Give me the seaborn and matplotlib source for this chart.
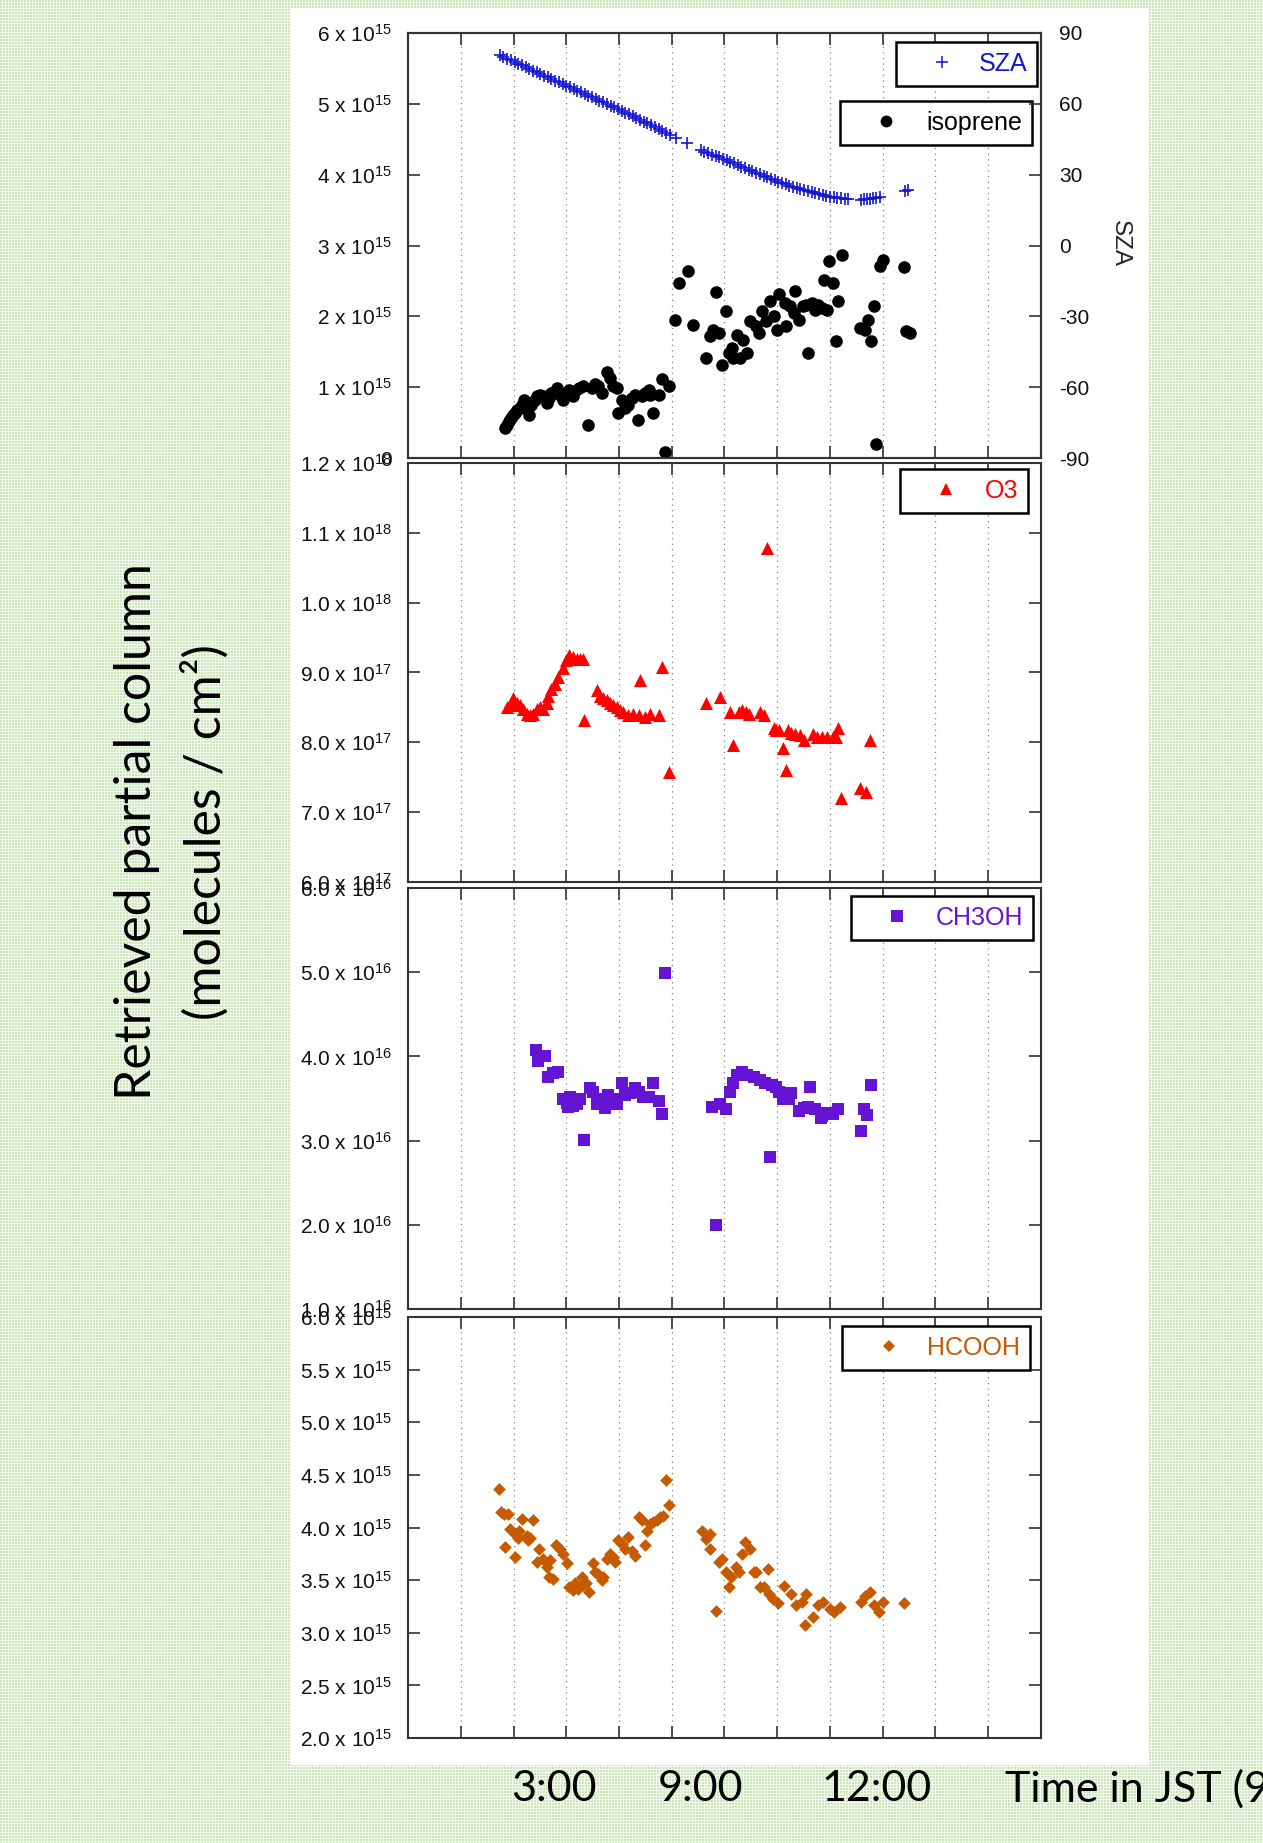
import numpy as np
import matplotlib
matplotlib.use("Agg")
import matplotlib.pyplot as plt
import matplotlib.patches as mpatches
from matplotlib.lines import Line2D
import seaborn as sns

# ---------------- data (x in grid units: 12 equal intervals across the frame) ----------------
sza_x = [1.74, 1.81, 1.88, 1.95, 2.02, 2.09, 2.16, 2.23, 2.30, 2.37, 2.44, 2.51, 2.58, 2.65, 2.72,
         2.79, 2.86, 2.93, 3.00, 3.07, 3.14, 3.21, 3.28, 3.35, 3.42, 3.49, 3.56, 3.63, 3.70, 3.77,
         3.84, 3.91, 3.98, 4.05, 4.12, 4.19, 4.26, 4.33, 4.40, 4.47, 4.54, 4.61, 4.68, 4.75, 4.82,
         4.89, 4.96, 5.09, 5.29,
         5.55, 5.62, 5.69, 5.76, 5.83, 5.90, 5.97, 6.04, 6.11, 6.18, 6.25, 6.32, 6.39, 6.46, 6.53,
         6.60, 6.67, 6.74, 6.81, 6.88, 6.95, 7.02, 7.09, 7.16, 7.23, 7.30, 7.37, 7.44, 7.51, 7.58,
         7.65, 7.72, 7.79, 7.86, 7.93, 8.00, 8.07, 8.14, 8.21, 8.28, 8.35,
         8.58, 8.64, 8.70, 8.76, 8.82, 8.88, 8.94, 9.42, 9.47]
sza_deg = [80.5, 79.8, 79.1, 78.4, 77.7, 77.0, 76.3, 75.5, 74.8, 74.1, 73.4, 72.7, 71.9, 71.2, 70.5,
           69.8, 69.1, 68.4, 67.7, 67.0, 66.3, 65.6, 64.9, 64.2, 63.5, 62.8, 62.1, 61.4, 60.7, 59.9,
           59.2, 58.5, 57.8, 57.0, 56.3, 55.5, 54.8, 54.0, 53.2, 52.5, 51.7, 50.9, 50.1, 49.3, 48.5,
           47.7, 47.0, 45.6, 43.3,
           40.3, 39.7, 39.1, 38.5, 37.9, 37.3, 36.7, 36.1, 35.4, 34.8, 34.1, 33.4, 32.8, 32.1, 31.5,
           30.8, 30.2, 29.6, 29.0, 28.3, 27.7, 27.1, 26.6, 26.0, 25.4, 24.9, 24.4, 23.9, 23.4, 22.9,
           22.5, 22.1, 21.7, 21.3, 21.0, 20.7, 20.4, 20.2, 20.0, 19.9, 19.8,
           19.4, 19.5, 19.6, 19.8, 20.0, 20.2, 20.5, 23.0, 23.4]

iso_x = [1.84, 1.87, 1.92, 1.96, 1.99, 2.03, 2.07, 2.12, 2.17, 2.20, 2.25, 2.30, 2.34, 2.41, 2.45,
         2.50, 2.56, 2.63, 2.68, 2.72, 2.82, 2.88, 2.94, 2.99, 3.06, 3.12, 3.17, 3.25, 3.32, 3.42,
         3.48, 3.55, 3.61, 3.67, 3.77, 3.83, 3.89, 3.96, 3.99, 4.05, 4.12, 4.18, 4.24, 4.31, 4.36,
         4.43, 4.50, 4.56, 4.59, 4.65, 4.75, 4.81, 4.88, 4.94, 5.07, 5.13, 5.30,
         5.41, 5.65, 5.73, 5.79, 5.83, 5.89, 5.95, 6.02, 6.08, 6.14, 6.17, 6.24, 6.30, 6.36, 6.43,
         6.49, 6.59, 6.65, 6.71, 6.78, 6.87, 6.93, 7.00, 7.03,
         7.14, 7.17, 7.24, 7.32, 7.34, 7.41, 7.48, 7.54, 7.58, 7.65, 7.71, 7.78, 7.85, 7.88, 7.95,
         7.99, 8.05, 8.11, 8.16, 8.22, 8.56, 8.67, 8.72, 8.77, 8.84, 8.88, 8.94, 9.01, 9.40, 9.45, 9.52]
iso_val = [0.42, 0.47, 0.52, 0.56, 0.61, 0.64, 0.68, 0.71, 0.75, 0.82, 0.78, 0.61, 0.75, 0.82, 0.87,
           0.89, 0.87, 0.78, 0.85, 0.92, 0.99, 0.89, 0.82, 0.92, 0.96, 0.87, 0.94, 0.99, 1.01, 0.47,
           0.99, 1.04, 1.01, 0.92, 1.22, 1.13, 1.01, 0.99, 0.64, 0.82, 0.71, 0.75, 0.85, 0.89, 0.54,
           0.87, 0.92, 0.96, 0.89, 0.64, 0.89, 1.11, 0.09, 1.01, 1.95, 2.47, 2.64,
           1.88, 1.41, 1.72, 1.81, 2.35, 1.76, 1.32, 2.07, 1.48, 1.55, 1.41, 1.74, 1.41, 1.67, 1.48,
           1.93, 1.86, 1.76, 2.07, 1.93, 2.21, 2.00, 1.81, 2.31,
           2.19, 1.86, 2.14, 2.05, 2.36, 1.95, 2.14, 2.16, 1.48, 2.19, 2.09, 2.16, 2.12, 2.52, 2.09,
           2.78, 2.47, 1.65, 2.21, 2.86, 1.84, 1.81, 1.95, 1.65, 2.14, 0.20, 2.71, 2.80, 2.69, 1.79, 1.76]

o3_x = [1.87, 1.93, 1.99, 2.07, 2.13, 2.18, 2.25, 2.31, 2.37, 2.44, 2.50, 2.56, 2.63, 2.66, 2.72,
        2.79, 2.85, 2.93, 2.99, 3.06, 3.12, 3.20, 3.26, 3.31, 3.34, 3.58, 3.64, 3.70, 3.77, 3.83,
        3.89, 3.96, 4.02, 4.08, 4.18, 4.27, 4.37, 4.40, 4.50, 4.59, 4.75, 4.81, 4.94,
        5.64, 5.92, 6.11, 6.17, 6.27, 6.33, 6.40, 6.46, 6.68, 6.74, 6.81, 6.93, 6.97, 7.03, 7.10, 7.16,
        7.20, 7.27, 7.34, 7.44, 7.51, 7.68, 7.75, 7.85, 7.95, 8.05, 8.11, 8.16, 8.21, 8.56, 8.68, 8.76]
o3_val = [8.51, 8.53, 8.63, 8.56, 8.53, 8.48, 8.41, 8.39, 8.41, 8.48, 8.51, 8.48, 8.56, 8.67, 8.77,
          8.84, 8.94, 9.06, 9.18, 9.25, 9.22, 9.20, 9.20, 9.20, 8.32, 8.75, 8.67, 8.63, 8.60, 8.56,
          8.53, 8.51, 8.46, 8.44, 8.39, 8.41, 8.39, 8.89, 8.36, 8.41, 8.39, 9.08, 7.58,
          8.56, 8.65, 8.44, 7.96, 8.44, 8.46, 8.43, 8.41, 8.44, 8.39, 10.78, 8.20, 8.17, 8.17, 7.92, 7.61,
          8.17, 8.13, 8.12, 8.10, 8.03, 8.12, 8.07, 8.07, 8.08, 8.08, 8.08, 8.21, 7.21, 7.34, 7.29, 8.04]

ch3oh_x = [2.42, 2.47, 2.60, 2.66, 2.75, 2.85, 2.94, 3.01, 3.04, 3.07, 3.13, 3.17, 3.20, 3.26, 3.34,
           3.45, 3.51, 3.58, 3.67, 3.74, 3.80, 3.89, 3.97, 4.05, 4.12, 4.21, 4.31, 4.37, 4.46, 4.56,
           4.65, 4.75, 4.81, 4.88,
           5.76, 5.83, 5.92, 6.02, 6.11, 6.17, 6.24, 6.33, 6.43, 6.55, 6.68, 6.77, 6.87, 6.90, 6.97,
           7.03, 7.10, 7.17, 7.22, 7.27, 7.41, 7.51, 7.58, 7.63, 7.71, 7.82, 7.85, 7.95, 8.05, 8.16,
           8.59, 8.65, 8.70, 8.77]
ch3oh_val = [4.08, 3.94, 4.00, 3.76, 3.80, 3.82, 3.49, 3.45, 3.40, 3.52, 3.41, 3.47, 3.43, 3.49, 3.01,
             3.62, 3.58, 3.43, 3.50, 3.39, 3.54, 3.49, 3.43, 3.68, 3.54, 3.56, 3.62, 3.58, 3.52, 3.52,
             3.68, 3.47, 3.31, 4.99,
             3.40, 2.00, 3.43, 3.37, 3.58, 3.68, 3.78, 3.82, 3.78, 3.76, 3.72, 3.68, 2.81, 3.66, 3.64,
             3.58, 3.49, 3.52, 3.49, 3.56, 3.35, 3.39, 3.40, 3.64, 3.37, 3.27, 3.29, 3.33, 3.31, 3.37,
             3.11, 3.37, 3.30, 3.66]

hcooh_x = [1.72, 1.76, 1.82, 1.84, 1.90, 1.94, 2.03, 2.03, 2.09, 2.11, 2.17, 2.25, 2.28, 2.32, 2.37,
           2.44, 2.49, 2.56, 2.63, 2.68, 2.69, 2.75, 2.80, 2.88, 2.94, 3.01, 3.06, 3.12, 3.17, 3.23,
           3.29, 3.32, 3.38, 3.44, 3.51, 3.55, 3.61, 3.67, 3.70, 3.77, 3.83, 3.89, 3.93, 3.99, 4.05,
           4.12, 4.18, 4.24, 4.31, 4.37, 4.43, 4.50, 4.53, 4.59, 4.65, 4.72, 4.78, 4.84, 4.89, 4.94,
           5.57, 5.64, 5.72, 5.73, 5.83, 5.89, 5.95, 6.02, 6.08, 6.13, 6.21, 6.27, 6.33, 6.39, 6.49,
           6.56, 6.59, 6.68, 6.74, 6.82, 6.85, 6.92, 7.02, 7.12, 7.26, 7.36, 7.46, 7.53, 7.55, 7.67,
           7.77, 7.87, 8.00, 8.08, 8.19, 8.59, 8.66, 8.76, 8.83, 8.93, 9.00, 9.41]
hcooh_val = [4.37, 4.15, 4.13, 3.81, 4.13, 3.99, 3.72, 3.94, 3.90, 3.97, 4.08, 3.92, 3.88, 3.90, 4.07,
             3.67, 3.80, 3.70, 3.62, 3.53, 3.69, 3.51, 3.83, 3.80, 3.75, 3.66, 3.43, 3.41, 3.47, 3.42,
             3.53, 3.45, 3.47, 3.39, 3.66, 3.58, 3.56, 3.50, 3.53, 3.70, 3.75, 3.72, 3.67, 3.88, 3.84,
             3.80, 3.91, 3.78, 3.73, 4.10, 4.07, 3.83, 3.97, 4.03, 4.05, 4.07, 4.10, 4.11, 4.45, 4.21,
             3.97, 3.89, 3.80, 3.94, 3.21, 3.67, 3.70, 3.58, 3.43, 3.53, 3.62, 3.58, 3.75, 3.86, 3.80,
             3.58, 3.58, 3.43, 3.43, 3.61, 3.37, 3.32, 3.28, 3.44, 3.37, 3.26, 3.29, 3.07, 3.37, 3.15,
             3.26, 3.29, 3.23, 3.20, 3.24, 3.29, 3.35, 3.39, 3.26, 3.20, 3.29, 3.28]

# value scales of the stored numbers
iso_scale, o3_scale, ch3oh_scale, hcooh_scale = 1e15, 1e17, 1e16, 1e15

# tick labels (mantissa, exponent) per panel
p1_ticks = [0, 1, 2, 3, 4, 5, 6]                  # x 1e15
p1_mant = ["0", "1", "2", "3", "4", "5", "6"]
p1_exp = ["", "15", "15", "15", "15", "15", "15"]
p2_ticks = [6, 7, 8, 9, 10, 11, 12]               # x 1e17
p2_mant = ["6.0", "7.0", "8.0", "9.0", "1.0", "1.1", "1.2"]
p2_exp = ["17", "17", "17", "17", "18", "18", "18"]
p3_ticks = [1, 2, 3, 4, 5, 6]                     # x 1e16
p3_mant = ["1.0", "2.0", "3.0", "4.0", "5.0", "6.0"]
p3_exp = ["16"] * 6
p4_ticks = [2.0, 2.5, 3.0, 3.5, 4.0, 4.5, 5.0, 5.5, 6.0]   # x 1e15
p4_mant = ["2.0", "2.5", "3.0", "3.5", "4.0", "4.5", "5.0", "5.5", "6.0"]
p4_exp = ["15"] * 9
sza_ticks = [-90, -60, -30, 0, 30, 60, 90]

time_labels = ["3:00", "9:00", "12:00"]
time_title = "Time in JST (9"
ylabel_lines = ["Retrieved partial column", "(molecules / cm²)"]

series_names = ["SZA", "isoprene", "O3", "CH3OH", "HCOOH"]

# ---------------- style ----------------
sns.set_style("white")
plt.rcParams["font.family"] = ["Liberation Sans", "DejaVu Sans"]
plt.rcParams["mathtext.fontset"] = "custom"
plt.rcParams["mathtext.rm"] = "Liberation Sans"
plt.rcParams["mathtext.it"] = "Liberation Sans:italic"
plt.rcParams["mathtext.bf"] = "Liberation Sans:bold"

C_SZA = "#1414d2"
C_ISO = "black"
C_O3 = "#ff0000"
C_CH3OH = "#6414d2"
C_HCOOH = "#c65a00"
SPINE = "#333333"

W, H = 1263, 1843
fig = plt.figure(figsize=(W / 100, H / 100), dpi=100)


def fx(px):
    return px / W


def fy(py):
    return 1 - py / H


# dotted light-green slide background
yy, xx = np.mgrid[0:H, 0:W]
bg = np.empty((H, W, 3))
bg[:] = (0.96, 0.985, 0.945)
bg[((yy % 3) < 2) & ((xx % 3) < 2)] = (0.80, 0.905, 0.73)
fig.figimage(bg, xo=0, yo=0, origin="upper", zorder=-10)
fig.add_artist(mpatches.Rectangle((fx(290), fy(1765)), fx(1149) - fx(290), (1765 - 8) / H,
                                  transform=fig.transFigure, facecolor="white",
                                  edgecolor="none", zorder=-5))


def labels(mant, exp):
    out = []
    for m, e in zip(mant, exp):
        if e:
            out.append(m + " x 10$^{\\mathregular{" + e + "}}$")
        else:
            out.append(m)
    return out


panels = [(33, 458), (463, 882), (888, 1309), (1317, 1738)]
axes = []
for top, bot in panels:
    ax = fig.add_axes([fx(408), fy(bot), fx(1041) - fx(408), (bot - top) / H])
    ax.set_facecolor("white")
    ax.set_xlim(0, 12)
    ax.set_xticks(range(1, 12))
    ax.set_axisbelow(True)
    ax.grid(axis="x", linestyle=(0, (1, 3.5)), color="#808080", linewidth=0.9)
    ax.grid(axis="y", visible=False)
    ax.tick_params(axis="x", which="both", direction="in", top=True, bottom=True,
                   labelbottom=False, length=8.5, width=1.2, color=SPINE)
    ax.tick_params(axis="y", direction="in", left=True, right=True, length=8.5,
                   width=1.2, color=SPINE, labelsize=15, pad=11.5, labelcolor="#111111")
    for s in ax.spines.values():
        s.set_linewidth(1.5)
        s.set_color(SPINE)
    axes.append(ax)

ax1, ax2, ax3, ax4 = axes

# ---- panel 1: isoprene + SZA ----
sns.scatterplot(x=iso_x, y=np.array(iso_val) * iso_scale, ax=ax1, marker="o", color=C_ISO,
                s=82, linewidth=0, legend=False)
ax1.set_ylim(0, 6 * iso_scale)
ax1.set_yticks(np.array(p1_ticks) * iso_scale, labels(p1_mant, p1_exp))
ax1.tick_params(axis="y", right=False)

axs = ax1.twinx()
sns.scatterplot(x=sza_x, y=sza_deg, ax=axs, marker="+", color=C_SZA, s=85, linewidth=1.2,
                legend=False)
axs.set_ylim(-90, 90)
axs.set_yticks(sza_ticks, [str(t) for t in sza_ticks])
axs.tick_params(axis="y", direction="in", right=True, left=False, length=8.5, width=1.2,
                color=SPINE, labelsize=15, pad=13, labelcolor="#111111")
for s in axs.spines.values():
    s.set_linewidth(1.5)
    s.set_color(SPINE)
axs.set_ylabel("SZA", rotation=270, fontsize=17.5, va="center", ha="center")
axs.yaxis.set_label_coords((1120 - 408) / 633, (458 - 243) / 425)

# ---- panel 2: O3 ----
sns.scatterplot(x=o3_x, y=np.array(o3_val) * o3_scale, ax=ax2, marker="^", color=C_O3,
                s=88, linewidth=0, legend=False)
ax2.set_ylim(6 * o3_scale, 12 * o3_scale)
ax2.set_yticks(np.array(p2_ticks) * o3_scale, labels(p2_mant, p2_exp))

# ---- panel 3: CH3OH ----
sns.scatterplot(x=ch3oh_x, y=np.array(ch3oh_val) * ch3oh_scale, ax=ax3, marker="s",
                color=C_CH3OH, s=82, linewidth=0, legend=False)
ax3.set_ylim(1 * ch3oh_scale, 6 * ch3oh_scale)
ax3.set_yticks(np.array(p3_ticks) * ch3oh_scale, labels(p3_mant, p3_exp))

# ---- panel 4: HCOOH ----
sns.scatterplot(x=hcooh_x, y=np.array(hcooh_val) * hcooh_scale, ax=ax4, marker="D",
                color=C_HCOOH, s=42, linewidth=0, legend=False)
ax4.set_ylim(2 * hcooh_scale, 6 * hcooh_scale)
ax4.set_yticks(np.array(p4_ticks) * hcooh_scale, labels(p4_mant, p4_exp))


# ---- legends ----
def add_legend(ax, handle, color, anchor, hlen=2.9, tpad=0.08):
    leg = ax.legend(handles=[handle], loc="upper right", bbox_to_anchor=anchor,
                    borderaxespad=0, frameon=True, fancybox=False, framealpha=1,
                    edgecolor="black", borderpad=0.4, handlelength=hlen,
                    handletextpad=tpad, labelcolor=color,
                    prop={"family": "Liberation Sans", "size": 18})
    leg.get_frame().set_linewidth(1.8)
    leg.set_zorder(10)
    return leg


h_sza = Line2D([], [], marker="+", linestyle="None", color=C_SZA, markersize=9,
               markeredgewidth=1.1, label=series_names[0])
h_iso = Line2D([], [], marker="o", linestyle="None", color=C_ISO, markersize=8.5,
               markeredgewidth=0, label=series_names[1])
h_o3 = Line2D([], [], marker="^", linestyle="None", color=C_O3, markersize=9,
              markeredgewidth=0, label=series_names[2])
h_ch = Line2D([], [], marker="s", linestyle="None", color=C_CH3OH, markersize=8.5,
              markeredgewidth=0, label=series_names[3])
h_hc = Line2D([], [], marker="D", linestyle="None", color=C_HCOOH, markersize=6.3,
              markeredgewidth=0, label=series_names[4])

add_legend(axs, h_sza, C_SZA, ((1037 - 408) / 633, (458 - 42) / 425), tpad=0.0)
add_legend(ax1, h_iso, C_ISO, ((1032 - 408) / 633, (458 - 101) / 425), tpad=0.16)
add_legend(ax2, h_o3, C_O3, ((1028 - 408) / 633, (882 - 469) / 419), tpad=0.08)
add_legend(ax3, h_ch, C_CH3OH, ((1033 - 408) / 633, (1309 - 896) / 421), tpad=0.08)
add_legend(ax4, h_hc, C_HCOOH, ((1030 - 408) / 633, (1738 - 1326) / 421), tpad=0.08)

# ---- slide overlay texts ----
fig.text(fx(137), fy(832), ylabel_lines[0], rotation=90, ha="center", va="center",
         fontsize=36, family=["Lato", "DejaVu Sans"], color="black")
fig.text(fx(205), fy(832), ylabel_lines[1], rotation=90, ha="center", va="center",
         fontsize=36, family=["Lato", "DejaVu Sans"], color="black")
for lab, px in zip(time_labels, [554, 701, 877]):
    fig.text(fx(px), fy(1789), lab, ha="center", va="center", fontsize=31,
             family=["Lato", "DejaVu Sans"], color="black")
fig.text(fx(1005), fy(1789), time_title, ha="left", va="center", fontsize=31,
         family=["Lato", "DejaVu Sans"], color="black")

fig.savefig("out.png", dpi=100)
